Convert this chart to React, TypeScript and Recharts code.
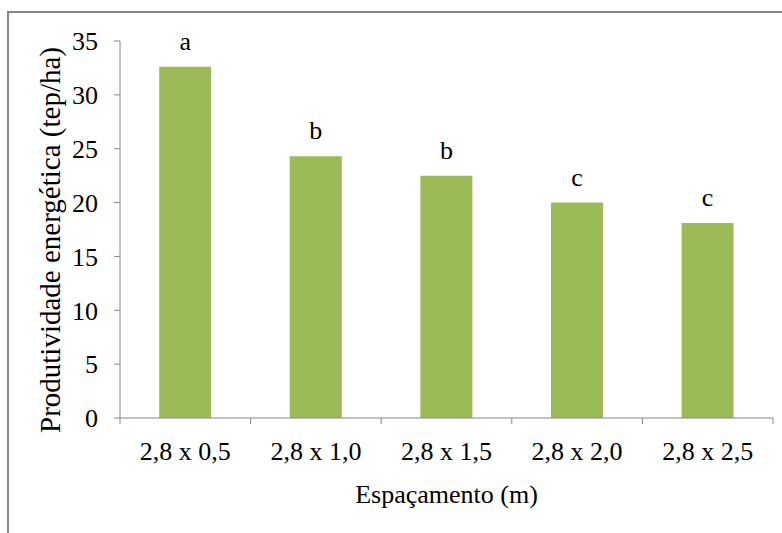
import React from "react";
import { BarChart, Bar, XAxis, YAxis, LabelList } from "recharts";

const categories = ["2,8 x 0,5", "2,8 x 1,0", "2,8 x 1,5", "2,8 x 2,0", "2,8 x 2,5"];
const productivity = [32.6, 24.3, 22.5, 20.0, 18.1];
const letters = ["a", "b", "b", "c", "c"];
const yTicks = [0, 5, 10, 15, 20, 25, 30, 35];

const data = categories.map((c, i) => ({ name: c, value: productivity[i], letter: letters[i] }));

const W = 782;
const H = 533;
const MARGIN = { top: 41, right: 9, left: 0, bottom: 0 };
const Y_W = 120;
const X_H = 115;
const AXIS = "#868686";
const FONT = "Liberation Serif, Times New Roman, DejaVu Serif, serif";
const TICK_SIZE = 6;
const TICK_MARGIN = 18;
const BAND = (W - MARGIN.left - MARGIN.right - Y_W) / categories.length;

const XTick = (props: any) => {
  const { x, y, payload, index } = props;
  const off = payload && typeof payload.offset === "number" && payload.offset > 0 ? payload.offset : BAND / 2;
  const axisY = y - TICK_SIZE - TICK_MARGIN;
  return (
    <g>
      <line x1={x - off} x2={x - off} y1={axisY} y2={axisY + TICK_SIZE} stroke={AXIS} strokeWidth={1} />
      {index === categories.length - 1 && (
        <line x1={x + off} x2={x + off} y1={axisY} y2={axisY + TICK_SIZE} stroke={AXIS} strokeWidth={1} />
      )}
      <text x={x} y={y} dy="0.71em" textAnchor="middle" fontSize={26} style={{ fontFamily: FONT }} fill="#000">
        {payload.value}
      </text>
    </g>
  );
};

const LetterLabel = (props: any) => {
  const { x, y, width, value } = props;
  return (
    <text x={x + width / 2} y={y - 17} textAnchor="middle" fontSize={26} style={{ fontFamily: FONT }} fill="#000">
      {value}
    </text>
  );
};

export default function App() {
  return (
    <div style={{ position: "absolute", left: 0, top: 0, width: W, height: H, background: "#fff", fontFamily: FONT }}>
      <div
        style={{
          position: "absolute",
          left: 7,
          top: 11,
          width: W,
          height: H,
          borderTop: "2px solid #878787",
          borderLeft: "2px solid #878787",
        }}
      />
      <div style={{ position: "absolute", left: 0, top: 0 }}>
        <BarChart width={W} height={H} data={data} margin={MARGIN} barCategoryGap="30%" style={{ fontFamily: FONT }}>
          <XAxis
            dataKey="name"
            height={X_H}
            stroke={AXIS}
            tickLine={false}
            tickSize={TICK_SIZE}
            tickMargin={TICK_MARGIN}
            tick={<XTick />}
            interval={0}
            label={{
              content: () => (
                <text x={446.5} y={503} textAnchor="middle" fontSize={26} style={{ fontFamily: FONT }} fill="#000">
                  Espaçamento (m)
                </text>
              ),
            }}
          />
          <YAxis
            width={Y_W}
            domain={[0, 35]}
            ticks={yTicks}
            interval={0}
            stroke={AXIS}
            tickSize={TICK_SIZE}
            tickMargin={16}
            tick={{ fontSize: 26, fill: "#000", style: { fontFamily: FONT } }}
            label={{
              content: () => (
                <text
                  x={0}
                  y={0}
                  transform="translate(50, 240) rotate(-90)"
                  textAnchor="middle"
                  dominantBaseline="central"
                  fontSize={29}
                  style={{ fontFamily: FONT }}
                  fill="#000"
                >
                  Produtividade energética (tep/ha)
                </text>
              ),
            }}
          />
          <Bar dataKey="value" fill="#9BBB59" isAnimationActive={false}>
            <LabelList dataKey="letter" content={<LetterLabel />} />
          </Bar>
        </BarChart>
      </div>
    </div>
  );
}
